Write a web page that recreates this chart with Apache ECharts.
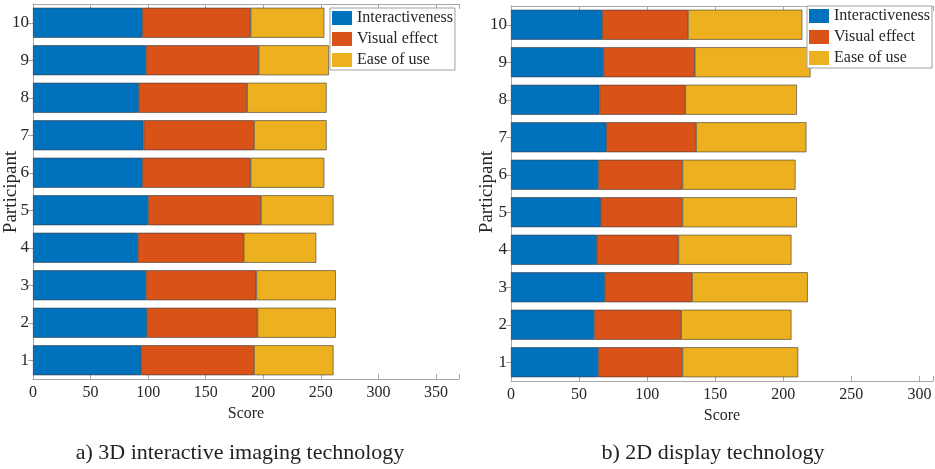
<!DOCTYPE html>
<html><head><meta charset="utf-8">
<script src="https://cdn.jsdelivr.net/npm/echarts@6/dist/echarts.min.js"></script>
<style>html,body{margin:0;padding:0;background:#fff}#c{width:935px;height:469px}</style>
</head><body><div id="c"></div>
<script>
const participants = ['1','2','3','4','5','6','7','8','9','10'];
const seriesNames = ['Interactiveness','Visual effect','Ease of use'];
// a) 3D interactive imaging technology
const inter3D  = [94, 99, 98, 91, 100, 95, 96, 92, 98, 95];
const visual3D = [98, 96, 96, 92, 98, 94, 96, 94, 98, 94];
const ease3D   = [69, 68, 69, 63, 63, 64, 63, 69, 61, 64];
// b) 2D display technology
const inter2D  = [64, 61, 69, 63, 66, 64, 70, 65, 68, 67];
const visual2D = [62, 64, 64, 60, 60, 62, 66, 63, 67, 63];
const ease2D   = [85, 81, 85, 83, 84, 83, 81, 82, 85, 84];
const captions = ['a) 3D interactive imaging technology', 'b) 2D display technology'];
const xTicksMax = [370, 310];

const colors = ['#0072BD', '#D95319', '#EDB120'];
const FONT = 'Liberation Serif';
const TXT = '#262626';
const AX = '#a6a6a6';

const grids = [
  {left: 33, top: 4, width: 426, height: 375, outerBoundsMode: 'none', containLabel: false},
  {left: 511, top: 6, width: 422, height: 375, outerBoundsMode: 'none', containLabel: false}
];

const xAxes = [], yAxes = [];
[0,1].forEach(g => {
  xAxes.push({
    type: 'value', gridIndex: g, min: 0, max: xTicksMax[g], interval: 50,
    name: 'Score', nameLocation: 'middle', nameGap: 22,
    nameTextStyle: {fontFamily: FONT, fontSize: 16, color: TXT},
    axisLine: {show: true, lineStyle: {color: AX}},
    axisTick: {show: true, inside: true, length: 5, lineStyle: {color: AX}},
    axisLabel: {fontFamily: FONT, fontSize: 16, color: TXT, margin: 6,
      formatter: v => (v % 50 === 0 && v <= 350) ? String(v) : ''},
    splitLine: {show: false}
  });
  xAxes.push({
    type: 'value', gridIndex: g, position: 'top', min: 0, max: xTicksMax[g], interval: 50,
    axisLine: {show: true, lineStyle: {color: AX}},
    axisTick: {show: true, inside: true, length: 5, lineStyle: {color: AX}},
    axisLabel: {show: false}, splitLine: {show: false}
  });
  yAxes.push({
    type: 'category', gridIndex: g, data: participants,
    axisLine: {show: true, lineStyle: {color: AX}},
    axisTick: {show: true, inside: true, length: 5, alignWithLabel: true, lineStyle: {color: AX}},
    axisLabel: {fontFamily: FONT, fontSize: 17, color: TXT, margin: 4},
    splitLine: {show: false}
  });
  yAxes.push({
    type: 'category', gridIndex: g, position: 'right', data: participants,
    axisLine: {show: true, lineStyle: {color: AX}},
    axisTick: {show: true, inside: true, length: 5, alignWithLabel: true, lineStyle: {color: AX}},
    axisLabel: {show: false}, splitLine: {show: false}
  });
});

const dataSets = [[inter3D, visual3D, ease3D], [inter2D, visual2D, ease2D]];
const series = [];
[0,1].forEach(g => {
  dataSets[g].forEach((arr, i) => {
    series.push({
      type: 'bar', name: seriesNames[i], stack: 'g' + g,
      xAxisIndex: g * 2, yAxisIndex: g * 2,
      data: arr, barWidth: '80%',
      itemStyle: {color: colors[i], borderColor: '#3a3a3a', borderWidth: 0.6},
      emphasis: {disabled: true}, animation: false
    });
  });
});

const legendBase = {
  orient: 'vertical', data: seriesNames, itemWidth: 20, itemHeight: 14, itemGap: 5,
  textStyle: {fontFamily: FONT, fontSize: 16, color: TXT},
  borderColor: '#a0a0a0', borderWidth: 1, backgroundColor: '#fff',
  padding: [2, 2, 2, 2], selectedMode: false, icon: 'rect',
  itemStyle: {borderWidth: 0}
};

const yNameStyle = {text: 'Participant', fontFamily: FONT, fontSize: 19, fill: TXT,
  align: 'center', verticalAlign: 'middle'};

const chart = echarts.init(document.getElementById('c'), null, {renderer: 'canvas'});
chart.setOption({
  animation: false,
  color: colors,
  grid: grids,
  xAxis: xAxes,
  yAxis: yAxes,
  series: series,
  legend: [
    Object.assign({}, legendBase, {left: 330, top: 8}),
    Object.assign({}, legendBase, {left: 807, top: 6})
  ],
  graphic: [
    {type: 'text', x: 11, y: 192, rotation: Math.PI / 2, style: Object.assign({}, yNameStyle)},
    {type: 'text', x: 487, y: 192, rotation: Math.PI / 2, style: Object.assign({}, yNameStyle)}
  ],
  title: [
    {text: captions[0], left: 235, top: 437, textAlign: 'center',
     textStyle: {fontFamily: FONT, fontSize: 22, fontWeight: 'normal', color: '#222'}},
    {text: captions[1], left: 708, top: 437, textAlign: 'center',
     textStyle: {fontFamily: FONT, fontSize: 22, fontWeight: 'normal', color: '#222'}}
  ]
});
</script></body></html>
